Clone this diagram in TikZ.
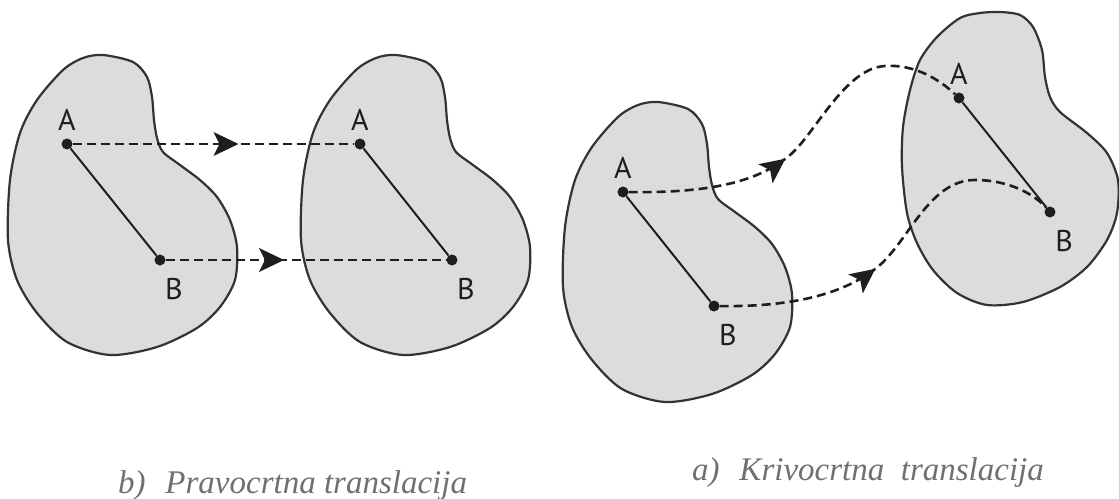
\documentclass[tikz,border=0pt]{standalone}
\usepackage{fontspec}
\setmainfont{Liberation Serif}
\newfontfamily\labfont{PT Sans}
\usetikzlibrary{decorations.markings,calc}
\definecolor{blobfill}{HTML}{DCDCDC}
\definecolor{blobline}{HTML}{333333}
\definecolor{capgray}{HTML}{707070}
\definecolor{inkc}{HTML}{1E1E1E}
\tikzset{
 blob/.style={fill=blobfill, draw=blobline, line width=2.2pt},
 dot/.style={circle, fill=inkc, inner sep=0pt, minimum size=11pt},
 seg/.style={draw=inkc, line width=2pt},
 dpath/.style={draw=inkc, line width=2.6pt, dash pattern=on 9pt off 5pt},
 lab/.style={font=\labfont\fontsize{30}{30}\selectfont, text=inkc, inner sep=0pt},
 captext/.style={font=\itshape\fontsize{33}{33}\selectfont, text=capgray, inner sep=0pt, anchor=base west},
 arrowat/.style={postaction={decorate}, decoration={markings, mark=at position #1 with {\fill[inkc] (1pt,0pt) -- (-24pt,12pt) -- (-18pt,0pt) -- (-24pt,-12pt) -- cycle;}}},
}
\newcommand{\blobpts}{(103,55) (133,62) (147,77) (152,97) (154,120) (157,138) (163,152) (180,165) (200,180) (217,197) (230,220) (237,247) (235,280) (220,307) (197,328) (157,347) (110,355) (67,342) (37,313) (17,280) (8,240) (10,180) (20,133) (37,100) (63,70) (83,58)}
\begin{document}
\begin{tikzpicture}[x=1pt,y=-1pt]
\useasboundingbox (0,0) rectangle (1119,498);
\fill[white] (0,0) rectangle (1119,498);
\clip (0,0) rectangle (1119,498);
% blobs
\draw[blob] plot[smooth cycle, tension=0.5] coordinates {\blobpts};
\begin{scope}[shift={(293,0)}]
\draw[blob] plot[smooth cycle, tension=0.5] coordinates {\blobpts};
\end{scope}
\begin{scope}[shift={(555,47)}]
\draw[blob] plot[smooth cycle, tension=0.5] coordinates {\blobpts};
\end{scope}
\draw[blob] plot[smooth cycle, tension=0.5] coordinates {(1000,12) (1020,15) (1033,27) (1042,50) (1045,77) (1050,97) (1060,112) (1087,133) (1107,153) (1118,180) (1117,213) (1107,240) (1087,267) (1060,287) (1023,302) (987,305) (957,293) (933,270) (917,243) (907,213) (902,167) (903,127) (910,90) (920,60) (937,37) (960,18) (980,13)};
% dots
\node[dot] (A1) at (67,144) {};
\node[dot] (B1) at (160,260) {};
\node[dot] (A2) at (360,144) {};
\node[dot] (B2) at (452,260) {};
\node[dot] (A3) at (623,192) {};
\node[dot] (B3) at (714,306) {};
\node[dot] (A4) at (959,98) {};
\node[dot] (B4) at (1050,212) {};
% segments
\draw[seg] (A1) -- (B1);
\draw[seg] (A2) -- (B2);
\draw[seg] (A3) -- (B3);
\draw[seg] (A4) -- (B4);
% straight translation
\draw[dpath, arrowat=0.585] (A1) -- (A2);
\draw[dpath, arrowat=0.418] (B1) -- (B2);
% curved translation
\draw[dpath, arrowat=162pt] (A3) .. controls (700,193) and (755,185) .. (790,155)
  .. controls (815,134) and (845,68) .. (885,66)
  .. controls (915,64) and (940,80) .. (A4);
\draw[dpath, arrowat=162pt] (B3) .. controls (790,307) and (845,295) .. (880,265)
  .. controls (910,238) and (930,180) .. (975,180)
  .. controls (1010,180) and (1035,195) .. (B4);
% labels
\foreach \p in {1,2,3,4}{
  \node[lab] (LA\p) at ($(A\p)+(0,-24)$) {A};
  \node[lab] (LB\p) at ($(B\p)+(14,29)$) {B};
}
% captions
\node[captext] (capb) at (118,493) {b)\hspace{0.6em}Pravocrtna translacija};
\node[captext] (capa) at (692,480) {a)\hspace{0.6em}Krivocrtna\hspace{0.5em}translacija};
\end{tikzpicture}
\end{document}
